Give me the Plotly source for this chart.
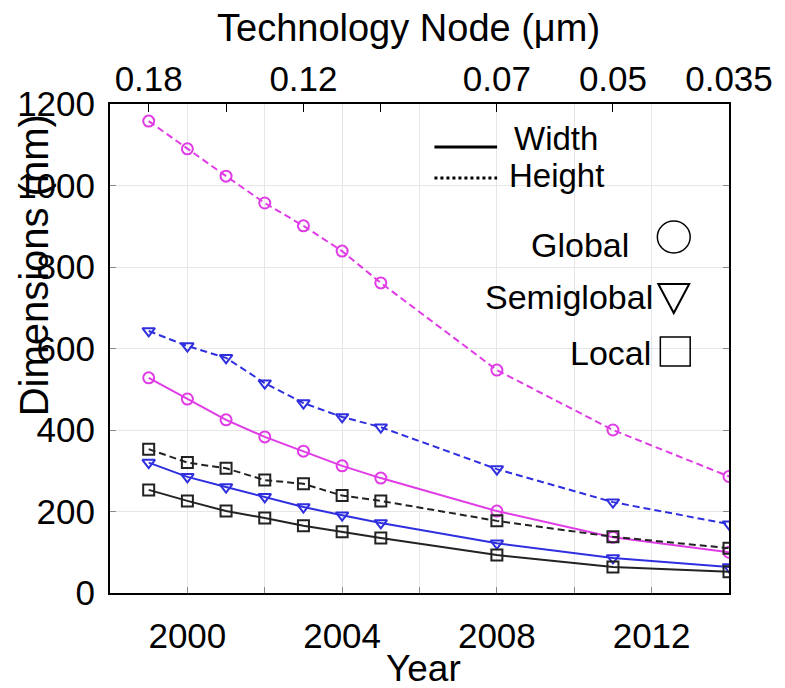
import plotly.graph_objects as go

# ---- data ----
years = [1999, 2000, 2001, 2002, 2003, 2004, 2005, 2008, 2011, 2014]
global_height = [1158, 1090, 1023, 957, 901, 839, 761, 547, 400, 286]
global_width = [528, 476, 425, 383, 348, 312, 282, 201, 137, 100]
semiglobal_height = [643, 606, 577, 515, 466, 432, 407, 304, 223, 169]
semiglobal_width = [320, 285, 260, 236, 211, 191, 172, 122, 86, 64]
local_height = [353, 320, 306, 277, 268, 239, 226, 177, 138, 110]
local_width = [253, 226, 201, 184, 165, 150, 135, 93, 64, 52]

year_ticks = [2000, 2002, 2004, 2006, 2008, 2010, 2012]
year_labels = ["2000", "", "2004", "", "2008", "", "2012"]
node_ticks = [1999, 2001, 2003, 2005, 2008, 2011, 2014]
node_labels = ["0.18", "", "0.12", "", "0.07", "0.05", "0.035"]
y_ticks = [0, 200, 400, 600, 800, 1000, 1200]

MAG = "#e03ce6"
BLU = "#2f2fe0"
BLK = "#222222"
FONT = "Liberation Sans, Arial, Helvetica, sans-serif"

W, H = 785, 688
L, R, T, B = 110, 732, 104, 593


def px(x):
    return (x - L) / (R - L)


def py(y):
    return (B - y) / (B - T)


fig = go.Figure()

series = [
    (global_height, MAG, "circle-open", "7px,4px", "Global height"),
    (global_width, MAG, "circle-open", "solid", "Global width"),
    (semiglobal_height, BLU, "triangle-down-open", "7px,4px", "Semiglobal height"),
    (semiglobal_width, BLU, "triangle-down-open", "solid", "Semiglobal width"),
    (local_height, BLK, "square-open", "7px,4px", "Local height"),
    (local_width, BLK, "square-open", "solid", "Local width"),
]
for vals, col, sym, dash, name in series:
    fig.add_trace(go.Scatter(
        x=years, y=vals, mode="lines+markers", name=name,
        line=dict(color=col, width=2, dash=dash),
        marker=dict(symbol=sym, size=11, color=col, line=dict(width=2, color=col)),
        showlegend=False, xaxis="x", yaxis="y",
    ))

# invisible trace for top axis
fig.add_trace(go.Scatter(x=[1998, 2014], y=[None, None], xaxis="x2", yaxis="y",
                         showlegend=False, hoverinfo="skip"))

fig.update_layout(
    width=W, height=H,
    margin=dict(l=L, r=W - R, t=T, b=H - B),
    paper_bgcolor="white", plot_bgcolor="white",
    font=dict(family=FONT, size=35, color="black"),
    xaxis=dict(
        range=[1998, 2014], tickvals=year_ticks, ticktext=year_labels,
        showgrid=True, gridcolor="#e6e6e6", gridwidth=1,
        ticks="inside", ticklen=6, tickcolor="#888888",
        showline=True, linecolor="black", linewidth=2, mirror=True,
        zeroline=False, ticklabelstandoff=11,
        tickfont=dict(size=35),
    ),
    xaxis2=dict(
        range=[1998, 2014], overlaying="x", side="top",
        tickvals=node_ticks, ticktext=node_labels,
        showgrid=False, ticks="inside", ticklen=8, tickcolor="black",
        showline=True, linecolor="black", linewidth=2,
        zeroline=False, ticklabelstandoff=-3,
        tickfont=dict(size=35),
    ),
    yaxis=dict(
        range=[0, 1200], tickvals=y_ticks,
        showgrid=True, gridcolor="#e6e6e6", gridwidth=1,
        ticks="inside", ticklen=6, tickcolor="#888888",
        showline=True, linecolor="black", linewidth=2, mirror="ticks",
        zeroline=False, ticklabelstandoff=6,
        tickfont=dict(size=35),
    ),
)

ann = []
ann.append(dict(text="Year", x=px(425), y=py(668), xref="paper", yref="paper",
                showarrow=False, font=dict(size=37), xanchor="center", yanchor="middle"))
ann.append(dict(text="Technology Node (\u03bcm)", x=px(410), y=py(28), xref="paper", yref="paper",
                showarrow=False, font=dict(size=38), xanchor="center", yanchor="middle"))
ann.append(dict(text="Dimensions (nm)", x=px(34), y=py(265), xref="paper", yref="paper",
                showarrow=False, font=dict(size=40), textangle=-90,
                xanchor="center", yanchor="middle"))
# custom legend
ann.append(dict(text="Width", x=px(514), y=py(139), xref="paper", yref="paper",
                showarrow=False, font=dict(size=33), xanchor="left", yanchor="middle"))
ann.append(dict(text="Height", x=px(509), y=py(175), xref="paper", yref="paper",
                showarrow=False, font=dict(size=33), xanchor="left", yanchor="middle"))
ann.append(dict(text="Global", x=px(634), y=py(245), xref="paper", yref="paper",
                showarrow=False, font=dict(size=34), xanchor="right", yanchor="middle"))
ann.append(dict(text="Semiglobal", x=px(658), y=py(297), xref="paper", yref="paper",
                showarrow=False, font=dict(size=34), xanchor="right", yanchor="middle"))
ann.append(dict(text="Local", x=px(656), y=py(353), xref="paper", yref="paper",
                showarrow=False, font=dict(size=34), xanchor="right", yanchor="middle"))
fig.update_layout(annotations=ann)

shapes = []
shapes.append(dict(type="line", xref="paper", yref="paper",
                   x0=px(436), x1=px(499), y0=py(147), y1=py(147),
                   line=dict(color="black", width=3)))
shapes.append(dict(type="line", xref="paper", yref="paper",
                   x0=px(436), x1=px(499), y0=py(178), y1=py(178),
                   line=dict(color="black", width=3, dash="dot")))
shapes.append(dict(type="circle", xref="paper", yref="paper",
                   x0=px(660), x1=px(693), y0=py(253), y1=py(221),
                   line=dict(color="black", width=1.5)))
tri = "M {} {} L {} {} L {} {} Z".format(px(661), py(284), px(692), py(284), px(676.5), py(313))
shapes.append(dict(type="path", xref="paper", yref="paper", path=tri,
                   line=dict(color="black", width=2)))
shapes.append(dict(type="rect", xref="paper", yref="paper",
                   x0=px(663), x1=px(693), y0=py(366), y1=py(337),
                   line=dict(color="black", width=1.5)))
fig.update_layout(shapes=shapes)

fig.write_html("out.html")
